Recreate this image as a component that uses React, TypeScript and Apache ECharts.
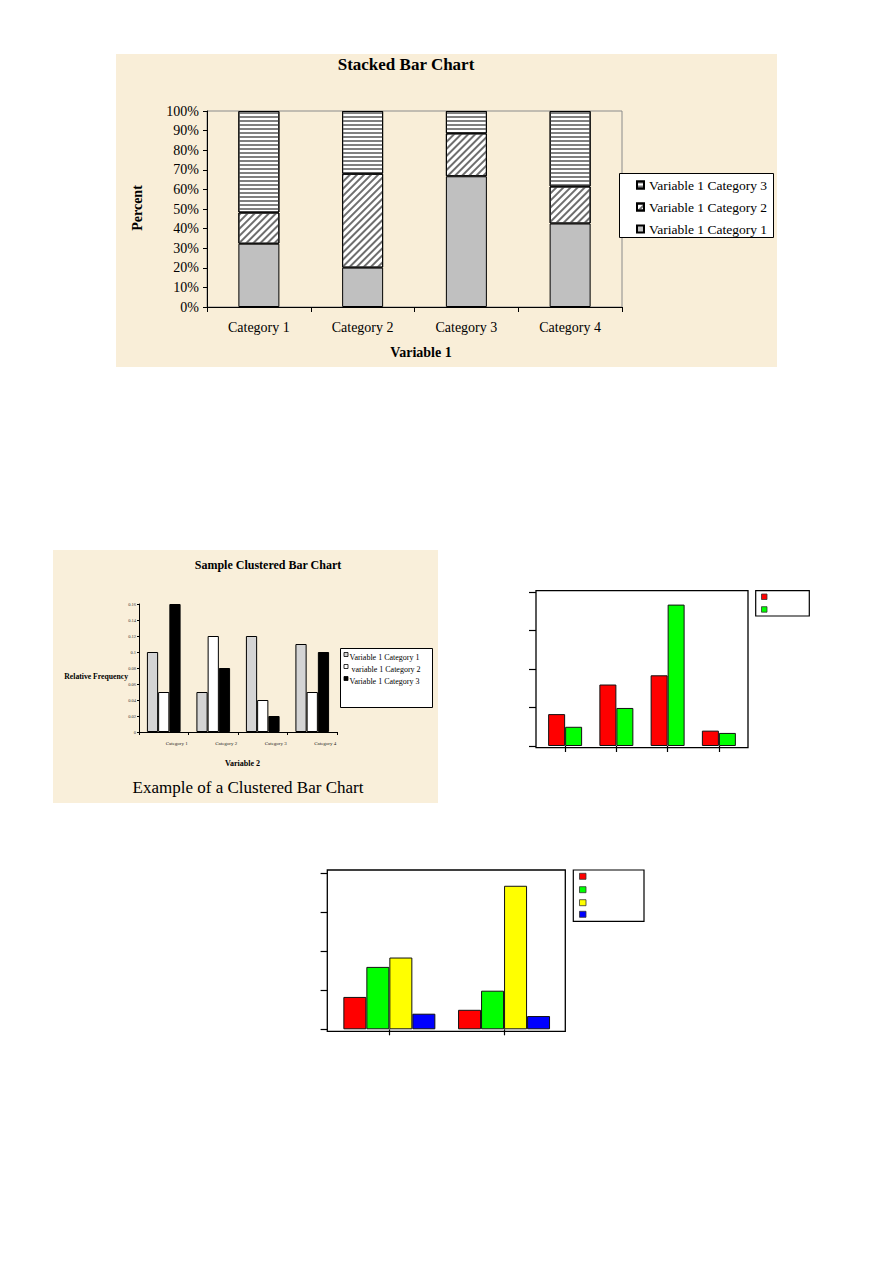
import React, { useEffect, useRef } from "react";
import * as echarts from "echarts";

// ---------- data ----------
const stackedCategories = ["Category 1", "Category 2", "Category 3", "Category 4"];
const stackedVar1Cat1 = [32.3, 20.1, 66.7, 42.6];
const stackedVar1Cat2 = [15.9, 47.9, 21.9, 18.9];
const stackedVar1Cat3 = [51.8, 32.0, 11.4, 38.5];
const stackedLegendNames = ["Variable 1 Category 1", "Variable 1 Category 2", "Variable 1 Category 3"];

const clusteredCategories = ["Category 1", "Category 2", "Category 3", "Category 4"];
const clusteredVar1Cat1 = [0.1, 0.05, 0.12, 0.11];
const clusteredVar1Cat2 = [0.05, 0.12, 0.04, 0.05];
const clusteredVar1Cat3 = [0.16, 0.08, 0.02, 0.1];
const clusteredLegendNames = ["Variable 1 Category 1", " variable 1 Category 2", "Variable 1 Category 3"];

const colourGroups = ["1", "2", "3", "4"];
const colourGroupA = [8.3, 16.0, 18.4, 4.0];
const colourGroupB = [5.0, 9.9, 36.8, 3.4];
const transposedGroups = ["A", "B"];

const SERIF = '"Liberation Serif", "Times New Roman", serif';

function buildOption() {
  const border = { borderColor: "#000", borderWidth: 1 };
  const frameColours = ["#ff0000", "#00ff00", "#ffff00", "#0000ff"];

  const graphic: any[] = [
    // paper panels
    { type: "rect", z: -10, shape: { x: 116, y: 54, width: 661, height: 313 }, style: { fill: "#f9eed8" } },
    { type: "rect", z: -10, shape: { x: 53, y: 550, width: 385, height: 253 }, style: { fill: "#f9efda" } },
    // chart 1 texts
    { type: "text", x: 406, y: 64, style: { text: "Stacked Bar Chart", font: `bold 17px ${SERIF}`, fill: "#000", align: "center", verticalAlign: "middle" } },
    { type: "text", x: 137, y: 208, rotation: Math.PI / 2, style: { text: "Percent", font: `bold 14px ${SERIF}`, fill: "#000", align: "center", verticalAlign: "middle" } },
    { type: "text", x: 421, y: 352, style: { text: "Variable 1", font: `bold 14px ${SERIF}`, fill: "#000", align: "center", verticalAlign: "middle" } },
    // chart 1 legend box
    { type: "rect", z: 1, shape: { x: 619.5, y: 173.5, width: 154, height: 64 }, style: { fill: "#fff", stroke: "#000", lineWidth: 1 } },
    // clip of overflowing legend text at the panel edge
    { type: "rect", z: 50, shape: { x: 777, y: 165, width: 30, height: 80 }, style: { fill: "#fff" } },
    // chart 2 texts
    { type: "text", x: 268, y: 565, style: { text: "Sample Clustered Bar Chart", font: `bold 12px ${SERIF}`, fill: "#000", align: "center", verticalAlign: "middle" } },
    { type: "text", x: 128, y: 676, style: { text: "Relative Frequency", font: `bold 7.7px ${SERIF}`, fill: "#000", align: "right", verticalAlign: "middle" } },
    { type: "text", x: 242.5, y: 763, style: { text: "Variable 2", font: `bold 8px ${SERIF}`, fill: "#000", align: "center", verticalAlign: "middle" } },
    { type: "text", x: 248, y: 787, style: { text: "Example of a Clustered Bar Chart", font: `17px ${SERIF}`, fill: "#000", align: "center", verticalAlign: "middle" } },
    // chart 2 legend
    { type: "rect", z: 1, shape: { x: 340.5, y: 648.5, width: 92, height: 59 }, style: { fill: "#fff", stroke: "#000", lineWidth: 1 } },
    // chart 3 frame + legend
    { type: "rect", z: 5, shape: { x: 536, y: 590.7, width: 212, height: 157 }, style: { fill: "transparent", stroke: "#000", lineWidth: 1.3 } },
    { type: "rect", z: 5, shape: { x: 755.7, y: 590.7, width: 53.6, height: 25.3 }, style: { fill: "#fff", stroke: "#000", lineWidth: 1.2 } },
    // chart 4 frame + legend
    { type: "rect", z: 5, shape: { x: 327.3, y: 870, width: 238, height: 161.3 }, style: { fill: "transparent", stroke: "#000", lineWidth: 1.3 } },
    { type: "rect", z: 5, shape: { x: 573.3, y: 870, width: 70.7, height: 51.3 }, style: { fill: "#fff", stroke: "#000", lineWidth: 1.2 } },
  ];

  const clusteredFills = ["#d4d4d4", "#ffffff", "#000000"];
  clusteredLegendNames.forEach((name, i) => {
    const y = 657.5 + i * 12;
    graphic.push({ type: "rect", z: 6, shape: { x: 344, y: y - 5, width: 4, height: 4 }, style: { fill: clusteredFills[i], stroke: "#000", lineWidth: 0.8 } });
    graphic.push({ type: "text", z: 6, x: 349.5, y, style: { text: name, font: `8px ${SERIF}`, fill: "#000", align: "left", verticalAlign: "middle" } });
  });
  [0, 1].forEach((i) => {
    graphic.push({ type: "rect", z: 6, shape: { x: 761.5, y: 594 + i * 12.7, width: 5.5, height: 5.5 }, style: { fill: frameColours[i], stroke: "#333", lineWidth: 0.8 } });
  });
  [876.3, 889.7, 902.7, 914.3].forEach((cy, i) => {
    graphic.push({ type: "rect", z: 6, shape: { x: 579.5, y: cy - 3, width: 6.5, height: 6 }, style: { fill: frameColours[i], stroke: "#333", lineWidth: 0.8 } });
  });

  const stackedFills = [
    { color: "#c0c0c0" },
    {
      color: "#ffffff",
      decal: { symbol: "rect", symbolSize: 1, dashArrayX: [1, 0], dashArrayY: [1.2, 2.8], rotation: -Math.PI / 4, color: "#6e6e6e" },
    },
    {
      color: "#ffffff",
      decal: { symbol: "rect", symbolSize: 1, dashArrayX: [1, 0], dashArrayY: [2, 2], rotation: 0, color: "#808080" },
    },
  ];
  const stackedData = [stackedVar1Cat1, stackedVar1Cat2, stackedVar1Cat3];

  const series: any[] = [];
  stackedData.forEach((d, i) => {
    series.push({
      type: "bar",
      name: stackedLegendNames[i],
      stack: "pct",
      xAxisIndex: 0,
      yAxisIndex: 0,
      barWidth: 41,
      data: d,
      itemStyle: { ...stackedFills[i], ...border },
    });
  });
  [clusteredVar1Cat1, clusteredVar1Cat2, clusteredVar1Cat3].forEach((d, i) => {
    series.push({
      type: "bar",
      name: "clustered-" + i,
      xAxisIndex: 1,
      yAxisIndex: 1,
      barGap: "0%",
      barCategoryGap: "32%",
      data: d,
      itemStyle: { color: clusteredFills[i], ...border },
    });
  });
  [colourGroupA, colourGroupB].forEach((d, i) => {
    series.push({
      type: "bar",
      name: "group-" + i,
      xAxisIndex: 2,
      yAxisIndex: 2,
      barGap: "0%",
      barCategoryGap: "33.7%",
      data: d,
      itemStyle: { color: frameColours[i], borderColor: "#111", borderWidth: 1 },
    });
  });
  colourGroups.forEach((_, i) => {
    series.push({
      type: "bar",
      name: "colour-" + i,
      xAxisIndex: 3,
      yAxisIndex: 3,
      barGap: "0%",
      barCategoryGap: "19.8%",
      data: [colourGroupA[i], colourGroupB[i]],
      itemStyle: { color: frameColours[i], borderColor: "#111", borderWidth: 1 },
    });
  });

  const blackLine = { lineStyle: { color: "#000", width: 1 } };

  return {
    animation: false,
    backgroundColor: "#ffffff",
    textStyle: { fontFamily: SERIF },
    grid: [
      { left: 207, top: 111, width: 415, height: 196, show: true, borderColor: "#8a8a8a", borderWidth: 1, backgroundColor: "transparent", containLabel: false, outerBoundsMode: "none" },
      { left: 139, top: 604, width: 198, height: 128, containLabel: false, outerBoundsMode: "none" },
      { left: 539.5, top: 592.3, width: 205, height: 153.7, containLabel: false, outerBoundsMode: "none" },
      { left: 332, top: 873.3, width: 229.4, height: 156, containLabel: false, outerBoundsMode: "none" },
    ],
    xAxis: [
      {
        type: "category", gridIndex: 0, data: stackedCategories,
        axisLine: blackLine,
        axisTick: { show: true, alignWithLabel: false, interval: 0, length: 5, lineStyle: { color: "#000" } },
        axisLabel: { fontSize: 14, color: "#000", margin: 13, fontFamily: SERIF, interval: 0 },
      },
      {
        type: "category", gridIndex: 1, data: clusteredCategories,
        axisLine: blackLine,
        axisTick: { show: true, alignWithLabel: false, interval: 0, length: 3, lineStyle: { color: "#000" } },
        axisLabel: { fontSize: 5, color: "#222", margin: 9, padding: [0, 0, 0, 26], fontFamily: SERIF, interval: 0 },
      },
      {
        type: "category", gridIndex: 2, data: colourGroups, offset: 1.7,
        axisLine: { show: false },
        axisTick: { show: true, alignWithLabel: true, length: 6, lineStyle: { color: "#000", width: 1.2 } },
        axisLabel: { show: false },
      },
      {
        type: "category", gridIndex: 3, data: transposedGroups, offset: 2,
        axisLine: { show: false },
        axisTick: { show: true, alignWithLabel: true, length: 6, lineStyle: { color: "#000", width: 1.2 } },
        axisLabel: { show: false },
      },
    ],
    yAxis: [
      {
        type: "value", gridIndex: 0, min: 0, max: 100, interval: 10,
        axisLine: { show: true, ...blackLine },
        axisTick: { show: true, length: 4, lineStyle: { color: "#000" } },
        axisLabel: { formatter: "{value}%", fontSize: 14, color: "#000", margin: 8, fontFamily: SERIF },
        splitLine: { show: false },
      },
      {
        type: "value", gridIndex: 1, min: 0, max: 0.16, interval: 0.02,
        axisLine: { show: true, ...blackLine },
        axisTick: { show: true, length: 2, lineStyle: { color: "#000" } },
        axisLabel: { fontSize: 4.5, color: "#333", margin: 3, fontFamily: SERIF },
        splitLine: { show: false },
      },
      {
        type: "value", gridIndex: 2, min: 0, max: 40, interval: 10, offset: 3.5,
        axisLine: { show: false },
        axisTick: { show: true, length: 7, lineStyle: { color: "#000", width: 1.2 } },
        axisLabel: { show: false },
        splitLine: { show: false },
      },
      {
        type: "value", gridIndex: 3, min: 0, max: 40, interval: 10, offset: 4.7,
        axisLine: { show: false },
        axisTick: { show: true, length: 6.7, lineStyle: { color: "#000", width: 1.2 } },
        axisLabel: { show: false },
        splitLine: { show: false },
      },
    ],
    legend: [
      {
        data: [stackedLegendNames[2], stackedLegendNames[1], stackedLegendNames[0]],
        orient: "vertical",
        left: 636,
        top: 177,
        padding: 0,
        itemWidth: 7,
        itemHeight: 7,
        itemGap: 6,
        icon: "rect",
        selectedMode: false,
        z: 4,
        textStyle: { fontFamily: SERIF, fontSize: 13.5, color: "#000", lineHeight: 16 },
      },
    ],
    graphic: { elements: graphic },
    series,
  };
}

export default function App() {
  const ref = useRef<HTMLDivElement>(null);
  useEffect(() => {
    if (!ref.current) return;
    const chart = echarts.init(ref.current, undefined, { renderer: "svg" });
    chart.setOption(buildOption() as any);
    return () => chart.dispose();
  }, []);
  return (
    <div
      ref={ref}
      style={{ position: "absolute", left: 0, top: 0, width: 893, height: 1263, background: "#fff" }}
    />
  );
}
